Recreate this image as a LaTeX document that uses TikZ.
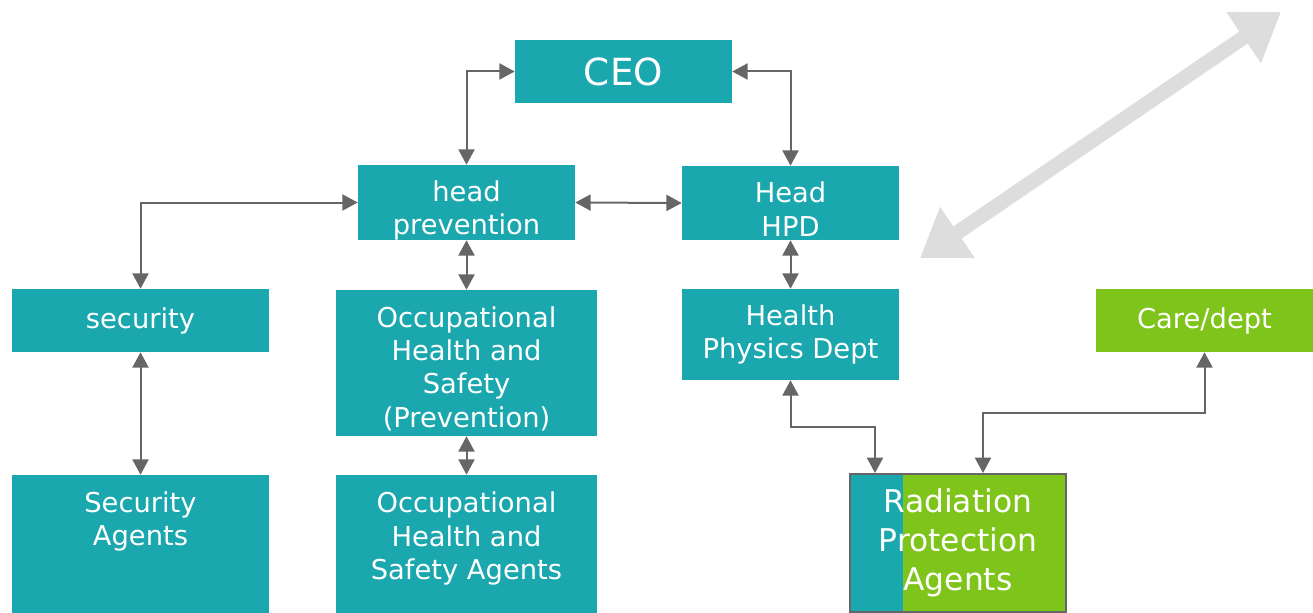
\documentclass[tikz,border=0pt]{standalone}
\usepackage{fontspec}
\setmainfont{DejaVu Sans}
\usepackage{tikz}
\usetikzlibrary{arrows.meta,calc}

\definecolor{boxteal}{RGB}{26,167,174}
\definecolor{boxgreen}{RGB}{126,196,26}
\definecolor{linkgray}{RGB}{102,102,102}
\definecolor{biggray}{RGB}{221,221,221}

\begin{document}
\begin{tikzpicture}[x=0.75pt,y=0.75pt,yscale=-1,
  box/.style={fill=boxteal,text=white,inner sep=0pt,align=center,
    font=\fontsize{20.5}{25}\selectfont},
  link/.style={draw=linkgray,line width=1.5pt,
    {Triangle[length=11.5pt,width=12pt]}-{Triangle[length=11.5pt,width=12pt]}}]
\useasboundingbox (0,0) rectangle (1313,613);

%Shape: Big Arrow
\draw [biggray,line width=11pt,{Triangle[length=34pt,width=44pt]}-{Triangle[length=34pt,width=44pt]}] (920,258) -- (1281,12) ;

%Shape: Rectangle
\node [box,minimum width=162.75pt,minimum height=47.25pt,font=\fontsize{28}{32}\selectfont] (ceo) at (623.5,71.5) {CEO};
%Shape: Rectangle
\node [box,minimum width=162.75pt,minimum height=56.25pt,text height=52.2pt,text depth=4pt] (headprev) at (466.5,202.5) {head\\prevention};
%Shape: Rectangle
\node [box,minimum width=162.75pt,minimum height=55.5pt,text height=49.8pt,text depth=0pt] (headhpd) at (790.5,203) {Head\\HPD};
%Shape: Rectangle
\node [box,minimum width=192.75pt,minimum height=47.25pt] (security) at (140.5,320.5) {security};
%Shape: Rectangle
\node [box,minimum width=195.75pt,minimum height=109.5pt,text height=101pt,text depth=5pt] (ohs) at (466.5,363) {Occupational\\Health and\\Safety\\(Prevention)};
%Shape: Rectangle
\node [box,minimum width=162.75pt,minimum height=68.25pt] (hpdept) at (790.5,334.5) {Health\\Physics Dept};
%Shape: Rectangle
\node [box,fill=boxgreen,minimum width=162.75pt,minimum height=47.25pt] (care) at (1204.5,320.5) {Care/dept};
%Shape: Rectangle
\node [box,minimum width=192.75pt,minimum height=103.5pt,text height=42.5pt,text depth=40pt] (secagents) at (140.5,544) {Security\\Agents};
%Shape: Rectangle
\node [box,minimum width=195.75pt,minimum height=103.5pt,text height=58pt,text depth=5pt] (ohsagents) at (466.5,544) {Occupational\\Health and\\Safety Agents};
%Shape: Rectangle
\node [box,fill=boxgreen,draw=linkgray,line width=1.5pt,minimum width=162pt,minimum height=103.5pt,
  font=\fontsize{23.5}{29.5}\selectfont,
  path picture={\fill [boxteal] (path picture bounding box.north west) rectangle ([xshift=39.75pt]path picture bounding box.south west);}]
  (rad) at (958,543) {Radiation\\Protection\\Agents};

%Straight Lines
\draw [link] (headprev.north) |- (ceo.west) ;
\draw [link] (ceo.east) -| (headhpd.north) ;
\draw [link] (headprev.east) -- (headhpd.west) ;
\draw [link] (security.north) |- (headprev.west) ;
\draw [link] (headprev.south) -- (ohs.north) ;
\draw [link] (ohs.south) -- (ohsagents.north) ;
\draw [link] (headhpd.south) -- (hpdept.north) ;
\draw [link] (security.south) -- (secagents.north) ;
\draw [link] (hpdept.south) -- ++(0,47) -| ($(rad.north west)+(26,0)$) ;
\draw [link] (care.south) -- ++(0,61) -| ($(rad.north west)+(134,0)$) ;

\end{tikzpicture}
\end{document}
